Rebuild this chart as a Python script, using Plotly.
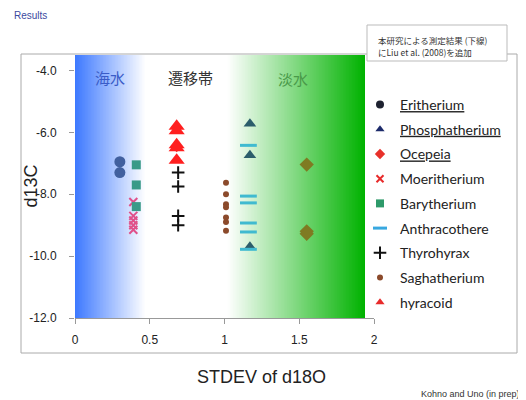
import numpy as np
import plotly.graph_objects as go

# ---------------- data ----------------
eritherium_x = [0.30, 0.30]
eritherium_y = [-6.95, -7.30]
phosphatherium_x = [1.17, 1.17, 1.17]
phosphatherium_y = [-5.72, -6.74, -9.70]
ocepeia_x = [0.68, 0.68]
ocepeia_y = [-5.85, -6.45]
moeritherium_x = [0.39, 0.39, 0.39, 0.39, 0.39]
moeritherium_y = [-8.25, -8.70, -8.85, -9.00, -9.15]
barytherium_x = [0.41, 0.41, 0.41]
barytherium_y = [-7.05, -7.70, -8.40]
anthracothere_x = [1.16, 1.16, 1.16, 1.16, 1.16, 1.16]
anthracothere_y = [-6.42, -8.06, -8.28, -8.93, -9.22, -9.78]
thyrohyrax_x = [0.69, 0.69, 0.69, 0.69]
thyrohyrax_y = [-7.30, -7.75, -8.70, -9.00]
saghatherium_x = [1.01, 1.01, 1.01, 1.01, 1.01, 1.01, 1.01]
saghatherium_y = [-7.63, -8.00, -8.32, -8.42, -8.75, -8.90, -9.18]
hyracoid_x = [0.68, 0.68, 0.68, 0.68, 0.68]
hyracoid_y = [-5.80, -5.95, -6.40, -6.50, -6.90]
other_x = [1.55, 1.55, 1.55]
other_y = [-7.04, -9.20, -9.28]

x_ticks = [0, 0.5, 1, 1.5, 2]
x_ticklabels = ["0", "0.5", "1", "1.5", "2"]
y_ticks = [-4, -6, -8, -10, -12]
y_ticklabels = ["-4.0", "-6.0", "-8.0", "-10.0", "-12.0"]

# background zones (marine -> transitional -> freshwater)
zone_edges = np.linspace(0, 2, 401)
zone_centers = (zone_edges[:-1] + zone_edges[1:]) / 2
zone_colorscale = [
    [0.0, "rgb(60,120,255)"],
    [0.235, "rgb(255,255,255)"],
    [0.51, "rgb(255,255,255)"],
    [0.969, "rgb(0,178,0)"],
    [0.971, "rgb(255,255,255)"],
    [1.0, "rgb(255,255,255)"],
]

fig = go.Figure()
fig.add_trace(go.Heatmap(
    x=zone_edges, y=[-12, -3.5], z=[zone_centers],
    colorscale=zone_colorscale, zmin=0, zmax=2, showscale=False,
    hoverinfo="skip", showlegend=False,
))

def add(name, xs, ys, symbol, color, size, line_w=0, legend_color=None, legend_size=8):
    mk = dict(symbol=symbol, color=color, size=size,
              line=dict(width=line_w, color=color))
    fig.add_trace(go.Scatter(x=xs, y=ys, mode="markers", name=name,
                             legendgroup=name, showlegend=False, marker=mk))
    lc = legend_color or color
    fig.add_trace(go.Scatter(
        x=[None], y=[None], mode="markers", name=name, legendgroup=name,
        marker=dict(symbol=symbol, color=lc, size=legend_size,
                    line=dict(width=line_w, color=lc)),
    ))

add("<u>Eritherium</u>", eritherium_x, eritherium_y, "circle", "#41609f", 11, legend_color="#1e2230")
add("<u>Phosphatherium</u>", phosphatherium_x, phosphatherium_y, "triangle-up", "#2c5d6b", 11, legend_color="#1c2a6a")
add("<u>Ocepeia</u>", ocepeia_x, ocepeia_y, "diamond", "#e8302a", 9, legend_color="#e8302a")
add("Moeritherium", moeritherium_x, moeritherium_y, "x-thin", "#e0508a", 8, 2, legend_color="#e82a2a", legend_size=7)
add("Barytherium", barytherium_x, barytherium_y, "square", "#3a9a88", 9, legend_color="#2e9a6a")
add("Anthracothere", anthracothere_x, anthracothere_y, "line-ew", "#40bad0", 12, 3, legend_color="#38a8e0", legend_size=10)
add("Thyrohyrax", thyrohyrax_x, thyrohyrax_y, "cross-thin", "#111111", 9, 2, legend_size=9)
add("Saghatherium", saghatherium_x, saghatherium_y, "circle", "#8b4a2b", 6, legend_size=6)
add("hyracoid", hyracoid_x, hyracoid_y, "triangle-up", "#ff1f1f", 14, legend_color="#e82a2a")
fig.add_trace(go.Scatter(
    x=other_x, y=other_y, mode="markers", name="other", showlegend=False,
    marker=dict(symbol="diamond", color="#7f7a22", size=11),
))

# page is offset by the 8px body margin; work in page pixels
OFF = 8
PW, PH = 526, 400
W, H = PW - OFF, PH - OFF
PL, PR, PT, PB = 75, 374, 55, 318        # plot box in page pixels
L, T = PL - OFF, PT - OFF
R, B = W - (PR - OFF), H - (PB - OFF)
pw, ph = PR - PL, PB - PT

def px(x):
    return (x - PL) / pw

def py(y):
    return (PB - y) / ph

axis_font = dict(family="Liberation Sans, Arial", size=12, color="#222")

fig.update_layout(
    width=W, height=H,
    margin=dict(l=L, r=R, t=T, b=B),
    paper_bgcolor="white", plot_bgcolor="white",
    xaxis=dict(range=[0, 2], tickvals=x_ticks, ticktext=x_ticklabels,
               showgrid=False, zeroline=False, showline=True, linecolor="#999",
               ticks="outside", ticklen=5, tickcolor="#999",
               tickfont=axis_font, ticklabelstandoff=6),
    yaxis=dict(range=[-12, -3.5], tickvals=y_ticks, ticktext=y_ticklabels,
               showgrid=False, zeroline=False, showline=False,
               ticks="outside", ticklen=5, tickcolor="#999",
               tickfont=axis_font, ticklabelstandoff=10),
    legend=dict(x=px(360), y=py(89), xanchor="left", yanchor="top",
                font=dict(family="Lato, Open Sans", size=14, color="#222"),
                bgcolor="rgba(0,0,0,0)", tracegroupgap=3.5, traceorder="grouped"),
    showlegend=True,
    shapes=[
        dict(type="rect", xref="paper", yref="paper",
             x0=px(21), x1=px(517), y0=py(353), y1=py(54),
             line=dict(color="#aaa", width=1), fillcolor="rgba(0,0,0,0)", layer="above"),
        dict(type="rect", xref="paper", yref="paper",
             x0=px(367), x1=px(507), y0=py(61), y1=py(25),
             line=dict(color="#bbb", width=1), fillcolor="white", layer="above"),
    ],
)

cjk = "Noto Sans CJK JP"
ann = [
    dict(text="海水", x=0.234, y=-4.23, xref="x", yref="y",
         font=dict(family=cjk, size=15, color="#3a5cc8")),
    dict(text="遷移帯", x=0.77, y=-4.23, xref="x", yref="y",
         font=dict(family=cjk, size=15, color="#333")),
    dict(text="淡水", x=1.46, y=-4.26, xref="x", yref="y",
         font=dict(family=cjk, size=15, color="#4a9a4a")),
    dict(text="d13C", x=px(30), y=0.5, xref="paper", yref="paper", textangle=-90,
         font=dict(family="Liberation Sans, Arial", size=18, color="#222")),
    dict(text="STDEV of d18O", x=px(261), y=py(377), xref="paper", yref="paper",
         font=dict(family="Liberation Sans, Arial", size=18, color="#222")),
    dict(text="Results", x=px(12), y=py(16), xref="paper", yref="paper", xanchor="left",
         font=dict(family="Liberation Sans, Arial", size=10, color="#3c4aa0")),
    dict(text="本研究による測定結果 (下線)", x=px(376), y=py(40), xref="paper", yref="paper",
         xanchor="left", font=dict(family=cjk, size=8.5, color="#333")),
    dict(text="にLiu et al. (2008)を追加", x=px(376), y=py(52), xref="paper", yref="paper",
         xanchor="left", font=dict(family=cjk, size=8.5, color="#333")),
    dict(text="Kohno and Uno (in prep)", x=px(522), y=py(394), xref="paper", yref="paper",
         xanchor="right", font=dict(family="Liberation Sans, Arial", size=9, color="#333")),
]
for a in ann:
    a.setdefault("showarrow", False)
    a.setdefault("xanchor", "center")
    a.setdefault("yanchor", "middle")
fig.update_layout(annotations=ann)

fig.write_html("out.html")
